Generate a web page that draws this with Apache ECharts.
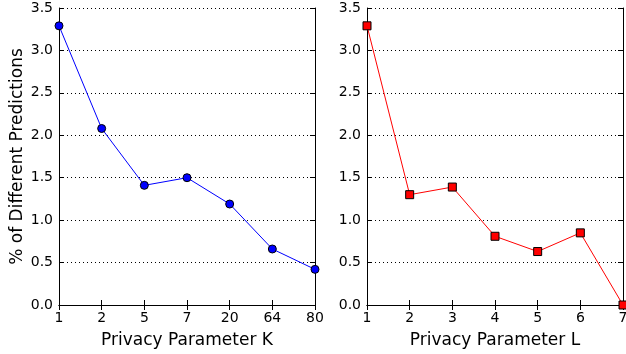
<!DOCTYPE html>
<html><head><meta charset="utf-8">
<script src="https://cdn.jsdelivr.net/npm/echarts@6/dist/echarts.min.js"></script>
<style>html,body{margin:0;padding:0;background:#fff}#c{width:626px;height:354px}</style>
</head><body><div id="c"></div>
<script>
var kCats = ['1','2','5','7','20','64','80'];
var kVals = [3.29, 2.08, 1.41, 1.50, 1.19, 0.66, 0.42];
var lCats = ['1','2','3','4','5','6','7'];
var lVals = [3.29, 1.30, 1.39, 0.81, 0.63, 0.85, 0.0];
var yTicks = {min: 0, max: 3.5, interval: 0.5};

var FONT = 'DejaVu Sans';
var chart = echarts.init(document.getElementById('c'), null, {renderer: 'canvas'});
var lineStyle = {color: '#000', width: 1};
function xMain(gi, cats, name) {
  return {type: 'category', gridIndex: gi, data: cats, boundaryGap: false, position: 'bottom',
    name: name, nameLocation: 'middle', nameGap: 27,
    nameTextStyle: {fontFamily: FONT, fontSize: 17, color: '#000'},
    axisLine: {show: true, lineStyle: lineStyle},
    axisTick: {show: true, inside: true, length: 5, lineStyle: lineStyle, alignWithLabel: true},
    axisLabel: {fontFamily: FONT, fontSize: 14, color: '#000', margin: 6, showMinLabel: true, showMaxLabel: true, interval: 0},
    splitLine: {show: false}};
}
function xTop(gi, cats) {
  return {type: 'category', gridIndex: gi, data: cats, boundaryGap: false, position: 'top',
    axisLine: {show: true, lineStyle: lineStyle},
    axisTick: {show: true, inside: true, length: 5, lineStyle: lineStyle},
    axisLabel: {show: false}, splitLine: {show: false}};
}
function yMain(gi, name) {
  return {type: 'value', gridIndex: gi, min: yTicks.min, max: yTicks.max, interval: yTicks.interval, position: 'left',
    name: name, nameLocation: 'middle', nameGap: 33,
    nameTextStyle: {fontFamily: FONT, fontSize: 17, color: '#000'},
    axisLine: {show: true, lineStyle: lineStyle},
    axisTick: {show: true, inside: true, length: 5, lineStyle: lineStyle},
    axisLabel: {fontFamily: FONT, fontSize: 14, color: '#000', margin: 6, formatter: function(v){return v.toFixed(1);}},
    splitLine: {show: true, lineStyle: {color: '#000', type: [1, 3], width: 1}}};
}
function yRight(gi) {
  return {type: 'value', gridIndex: gi, min: yTicks.min, max: yTicks.max, interval: yTicks.interval, position: 'right',
    axisLine: {show: true, lineStyle: lineStyle},
    axisTick: {show: true, inside: true, length: 5, lineStyle: lineStyle},
    axisLabel: {show: false}, splitLine: {show: false}};
}
chart.setOption({
  animation: false,
  backgroundColor: '#fff',
  grid: [
    {left: 59, right: 311, top: 8, bottom: 49, outerBoundsMode: 'none', containLabel: false},
    {left: 367, right: 3, top: 8, bottom: 49, outerBoundsMode: 'none', containLabel: false}
  ],
  xAxis: [xMain(0, kCats, 'Privacy Parameter K'), xTop(0, kCats), xMain(1, lCats, 'Privacy Parameter L'), xTop(1, lCats)],
  yAxis: [yMain(0, '% of Different Predictions'), yRight(0), yMain(1, ''), yRight(1)],
  series: [
    {type: 'line', xAxisIndex: 0, yAxisIndex: 0, data: kVals, symbol: 'circle', symbolSize: 8,
      lineStyle: {color: '#0000ff', width: 1}, itemStyle: {color: '#0000ff', borderColor: '#000', borderWidth: 1}, z: 1, clip: true},
    {type: 'line', xAxisIndex: 2, yAxisIndex: 2, data: lVals, symbol: 'rect', symbolSize: 8,
      lineStyle: {color: '#ff0000', width: 1}, itemStyle: {color: '#ff0000', borderColor: '#000', borderWidth: 1}, z: 1, clip: true}
  ]
});
</script></body></html>
